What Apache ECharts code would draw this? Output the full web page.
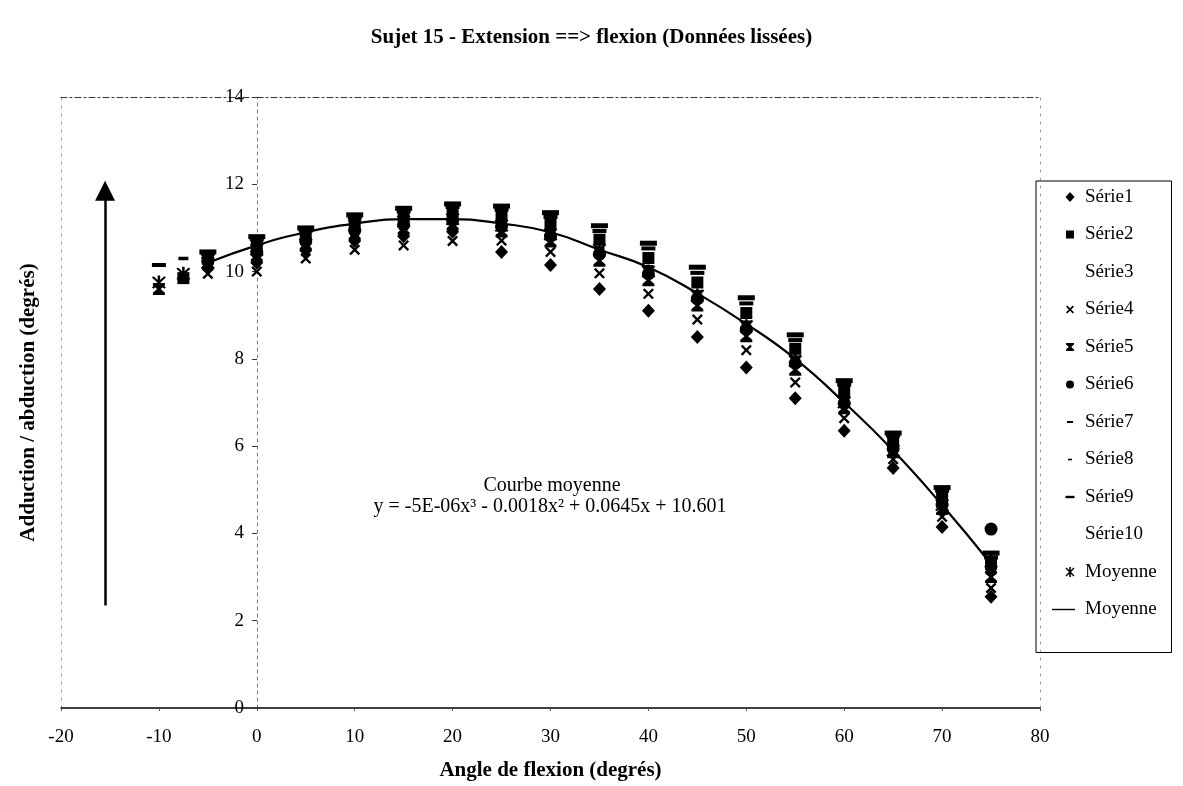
<!DOCTYPE html>
<html lang="fr">
<head>
<meta charset="utf-8">
<script src="https://cdn.jsdelivr.net/npm/echarts@6/dist/echarts.min.js"></script>
</head>
<body style="margin:0">
<div id="container" style="width:1183px;height:786px"></div>
<script>
// angles de flexion (degrés)
var angles = [-10, -7.5, -5, 0, 5, 10, 15, 20, 25, 30, 35, 40, 45, 50, 55, 60, 65, 70, 75];
// adduction / abduction
var serie1 = [null, null, 10.08, 10.2, 10.48, 10.7, 10.81, 10.91, 10.45, 10.15, 9.6, 9.1, 8.5, 7.8, 7.1, 6.35, 5.5, 4.15, 2.55];
var serie2 = [null, 9.85, 10.34, 10.62, 10.85, 11.12, 11.26, 11.36, 11.27, 11.09, 10.73, 10.31, 9.75, 9.05, 8.23, 7.25, 6.12, 4.85, 3.3];
var serie3 = [null, null, 10.14, 10.3, 10.57, 10.8, 10.92, 11.02, 10.85, 10.61, 10.15, 9.69, 9.11, 8.41, 7.65, 6.79, 5.8, 4.49, 2.95];
var serie4 = [null, null, 9.95, 10.0, 10.3, 10.5, 10.6, 10.7, 10.71, 10.45, 9.96, 9.49, 8.9, 8.2, 7.46, 6.64, 5.7, 4.38, 2.75];
var serie5 = [9.6, null, 10.18, 10.36, 10.62, 10.86, 10.98, 11.08, 10.92, 10.69, 10.25, 9.8, 9.22, 8.52, 7.75, 6.87, 5.86, 4.56, 3.0];
var serie6 = [null, null, 10.23, 10.44, 10.69, 10.94, 11.07, 11.17, 11.03, 10.81, 10.4, 9.95, 9.38, 8.68, 7.9, 6.98, 5.94, 4.65, 4.1];
var serie7 = [10.15, null, 10.41, 10.74, 10.94, 11.24, 11.38, 11.48, 11.42, 11.25, 10.93, 10.53, 9.97, 9.27, 8.43, 7.41, 6.24, 4.98, 3.45];
var serie8 = [null, 10.3, 10.28, 10.52, 10.76, 11.02, 11.15, 11.25, 11.13, 10.93, 10.54, 10.11, 9.54, 8.84, 8.04, 7.1, 6.02, 4.74, 3.15];
var serie9 = [null, null, 10.45, 10.8, 11.0, 11.3, 11.45, 11.55, 11.5, 11.35, 11.05, 10.65, 10.1, 9.4, 8.55, 7.5, 6.3, 5.05, 3.55];
var serie10 = [null, null, 10.1, 10.24, 10.51, 10.74, 10.86, 10.96, 10.77, 10.51, 10.04, 9.57, 8.98, 8.28, 7.54, 6.7, 5.74, 4.42, 2.85];
var moyenne = [9.75, 9.95, 10.2, 10.5, 10.85, 11.05, 11.15, 11.2, 11.05, 10.85, 10.5, 10.0, 9.45, 8.75, 7.95, 7.0, 5.9, 4.65, 3.35];
var courbeMoyenne = [null, null, 10.2, 10.6, 10.9, 11.1, 11.2, 11.2, 11.1, 10.9, 10.5, 10.1, 9.5, 8.8, 8.0, 7.0, 5.9, 4.65, 3.3];

var serif = 'Liberation Serif';

// formes des marqueurs (boite 0..10)
var shapes = {
    diamond: 'M5,0 L9.5,5 L5,10 L0.5,5 Z',
    square: 'M1,1 L9,1 L9,9 L1,9 Z',
    cross: 'M1,2.2 L2.2,1 L5,3.8 L7.8,1 L9,2.2 L6.2,5 L9,7.8 L7.8,9 L5,6.2 L2.2,9 L1,7.8 L3.8,5 Z',
    hourglass: 'M1,1 L9,1 L9,2.6 L6.2,5 L9,7.4 L9,9 L1,9 L1,7.4 L3.8,5 L1,2.6 Z',
    circle: 'M1,5 A4,4 0 1,1 9,5 A4,4 0 1,1 1,5 Z',
    dash: 'M2,4 L8,4 L8,6 L2,6 Z',
    smallDash: 'M3,4.2 L7,4.2 L7,5.8 L3,5.8 Z',
    wideDash: 'M0.5,3.8 L9.5,3.8 L9.5,6.2 L0.5,6.2 Z',
    star: 'M0.5,1.5 L1.5,0.5 L5,4 L8.5,0.5 L9.5,1.5 L6,5 L9.5,8.5 L8.5,9.5 L5,6 L1.5,9.5 L0.5,8.5 L4,5 Z M4.2,0 L5.8,0 L5.8,10 L4.2,10 Z',
    line: 'M-13,4.3 L10,4.3 L10,5.7 L-13,5.7 Z',
    none: ''
};
function legendIcon(name) {
    return 'path://M-15,0 M15,10 ' + shapes[name];
}
function pairs(values) {
    var out = [];
    angles.forEach(function (a, i) {
        if (values[i] != null) out.push([a, values[i]]);
    });
    return out;
}
function scatter(name, values, shape, size, hidden) {
    return {
        name: name,
        type: 'scatter',
        data: pairs(values),
        symbol: hidden ? 'circle' : 'path://' + shapes[shape],
        symbolSize: size,
        itemStyle: {color: hidden ? 'transparent' : '#000', opacity: 1},
        z: 3
    };
}

var series = [
    scatter('Série1', serie1, 'diamond', [13, 14]),
    scatter('Série2', serie2, 'square', 12),
    scatter('Série3', serie3, 'none', 1, true),
    scatter('Série4', serie4, 'cross', 11),
    scatter('Série5', serie5, 'hourglass', [12, 12]),
    scatter('Série6', serie6, 'circle', 13),
    scatter('Série7', serie7, 'dash', [14, 4]),
    scatter('Série8', serie8, 'smallDash', [10, 3.5]),
    scatter('Série9', serie9, 'wideDash', [17, 5]),
    scatter('Série10', serie10, 'none', 1, true),
    scatter('Moyenne', moyenne, 'star', [14, 14]),
    {
        name: 'Moyenne ',
        type: 'line',
        data: pairs(courbeMoyenne),
        smooth: true,
        symbol: 'none',
        lineStyle: {color: '#000', width: 2.2},
        itemStyle: {color: '#000'},
        z: 4,
        markLine: {
            silent: true,
            symbol: ['none', 'triangle'],
            symbolSize: 20,
            label: {show: false},
            lineStyle: {color: '#000', width: 2.5, type: 'solid'},
            data: [[{coord: [-15.5, 2.35]}, {coord: [-15.5, 11.85]}]]
        }
    }
];

var legendData = [
    {name: 'Série1', icon: legendIcon('diamond')},
    {name: 'Série2', icon: legendIcon('square')},
    {name: 'Série3', icon: legendIcon('none')},
    {name: 'Série4', icon: legendIcon('cross')},
    {name: 'Série5', icon: legendIcon('hourglass')},
    {name: 'Série6', icon: legendIcon('circle')},
    {name: 'Série7', icon: legendIcon('dash')},
    {name: 'Série8', icon: legendIcon('smallDash')},
    {name: 'Série9', icon: legendIcon('wideDash')},
    {name: 'Série10', icon: legendIcon('none')},
    {name: 'Moyenne', icon: legendIcon('star')},
    {name: 'Moyenne ', icon: legendIcon('line')}
];

var myChart = echarts.init(document.getElementById('container'), null, {renderer: 'canvas'});

var option = {
    backgroundColor: '#fff',
    animation: false,
    title: {
        text: 'Sujet 15 - Extension ==> flexion (Données lissées)',
        left: 'center',
        top: 22,
        textStyle: {fontFamily: serif, fontSize: 21, fontWeight: 'bold', color: '#000'}
    },
    grid: {left: 61, right: 143, top: 97, bottom: 76},
    legend: {
        orient: 'vertical',
        left: 1036,
        top: 181,
        padding: [6, 10, 33, 14],
        itemWidth: 30,
        itemHeight: 10,
        itemGap: 17.5,
        selectedMode: false,
        borderColor: '#000',
        borderWidth: 1,
        textStyle: {fontFamily: serif, fontSize: 19, color: '#000', lineHeight: 20},
        data: legendData
    },
    xAxis: [
        {
            type: 'value',
            min: -20,
            max: 80,
            interval: 10,
            name: 'Angle de flexion (degrés)',
            nameLocation: 'middle',
            nameGap: 52,
            nameTextStyle: {fontFamily: serif, fontSize: 21, fontWeight: 'bold', color: '#000'},
            axisLine: {onZero: false, lineStyle: {color: '#000', width: 1.5}},
            axisTick: {show: true, length: 3, lineStyle: {color: '#555'}},
            axisLabel: {margin: 20, fontFamily: serif, fontSize: 19, color: '#000'},
            splitLine: {show: false}
        },
        {
            type: 'value',
            position: 'top',
            min: -20,
            max: 80,
            axisLine: {show: true, onZero: false, lineStyle: {color: '#333', width: 1, type: [6, 3, 2, 3]}},
            axisTick: {show: false},
            axisLabel: {show: false},
            splitLine: {show: false}
        }
    ],
    yAxis: [
        {
            type: 'value',
            position: 'left',
            offset: -196,
            min: 0,
            max: 14,
            interval: 2,
            axisLine: {show: true, onZero: false, lineStyle: {color: '#777', width: 1, type: [3, 4]}},
            axisTick: {show: true, length: 5, lineStyle: {color: '#333'}},
            axisLabel: {margin: 13, fontFamily: serif, fontSize: 19, color: '#000'},
            splitLine: {show: false}
        },
        {
            type: 'value',
            position: 'left',
            min: 0,
            max: 14,
            name: 'Adduction / abduction (degrés)',
            nameLocation: 'middle',
            nameGap: 22,
            nameTextStyle: {fontFamily: serif, fontSize: 21, fontWeight: 'bold', color: '#000'},
            axisLine: {show: true, onZero: false, lineStyle: {color: '#999', width: 1, type: [2, 6]}},
            axisTick: {show: false},
            axisLabel: {show: false},
            splitLine: {show: false}
        },
        {
            type: 'value',
            position: 'right',
            min: 0,
            max: 14,
            axisLine: {show: true, onZero: false, lineStyle: {color: '#999', width: 1, type: [2, 6]}},
            axisTick: {show: false},
            axisLabel: {show: false},
            splitLine: {show: false}
        }
    ],
    graphic: [
        {
            type: 'text',
            x: 552,
            y: 476,
            style: {text: 'Courbe moyenne', font: '20px "Liberation Serif"', fill: '#000', align: 'center', verticalAlign: 'top'}
        },
        {
            type: 'text',
            x: 550,
            y: 497,
            style: {text: 'y = -5E-06x³ - 0.0018x² + 0.0645x + 10.601', font: '20px "Liberation Serif"', fill: '#000', align: 'center', verticalAlign: 'top'}
        }
    ],
    series: series
};

myChart.setOption(option);
window.addEventListener('resize', myChart.resize);
</script>
</body>
</html>
